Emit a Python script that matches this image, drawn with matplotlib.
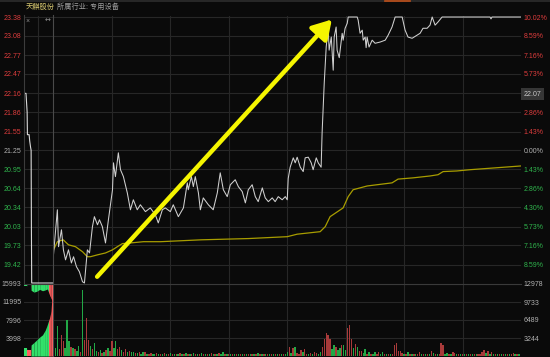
import numpy as np
import matplotlib
matplotlib.use('Agg')
import matplotlib.pyplot as plt
from matplotlib.lines import Line2D

plt.rcParams['font.family'] = ['Liberation Sans', 'Noto Sans CJK SC', 'DejaVu Sans']

# ---- data ----
prev_close = 21.25
price_ticks = [23.38, 23.08, 22.77, 22.47, 22.16, 21.86, 21.55, 21.25,
               20.95, 20.64, 20.34, 20.03, 19.73, 19.42]
pct_labels = ['10.02%', '8.59%', '7.16%', '5.73%', '22.07', '2.86%', '1.43%', '0.00%',
              '1.43%', '2.86%', '4.30%', '5.73%', '7.16%', '8.59%']
vol_ticks_left = [3998, 7996, 11995, 15993]
vol_ticks_right = [3244, 6489, 9733, 12978]

# call auction (9:15-9:25), minutes from 9:15
auc_t = [0, 0.7, 1.1, 1.2, 1.8, 2.0, 2.3, 2.5, 2.6, 2.7, 10]
auc_p = [22.16, 22.16, 21.86, 21.50, 21.50, 21.40, 21.30, 21.25, 20.00, 19.13, 19.13]
auc_vt = [0, 1.0, 1.1, 2.4, 2.5, 3.5, 4.5, 5.5, 6.5, 7.5, 8.2, 8.6, 9.0, 9.5, 10]
auc_match = [1800, 1800, 1330, 1330, 2450, 3000, 3600, 4200, 4700, 5800, 7000, 7800, 8500, 10000, 15300]
auc_unmatch = [500, 500, 300, 300, 1400, 1800, 1600, 1200, 1500, 1300, 1100, 1800, 2500, 3200, 3800]
auc_side = 'ggrrgggggggrrrr'

# intraday price (minutes from open)
px_min = [0, 2, 2.6, 4.1, 5.1, 6.2, 7.7, 9.2, 10.3, 11.8, 13.3, 14.9, 15.9, 17.4, 18.5, 20, 21,
          22.6, 23.6, 25.1, 26.7, 28.2, 30.3, 30.8, 31.8, 33.3, 34.4, 35.9, 37.9, 39.5, 41, 43,
          44.6, 47.2, 49.7, 52.3, 53.8, 55.9, 57.4, 60, 61.5, 64.1, 66.7, 68.7, 69.2, 70.8,
          71.8, 72.8, 74.4, 75.4, 76.9, 79.5, 82, 84.1, 85.6, 87.2, 89.2, 90.8, 93.3, 94.9,
          96.9, 98.5, 100, 102, 103.6, 105.1, 107.2, 108.7, 110.3, 112.3, 113.8, 115.4, 117.4,
          119, 120, 120.5, 121.5, 123.1, 124.1, 125.1, 126.7, 128.2, 129.2, 130.8, 132.3, 133.3,
          134.9, 135.9, 137.4, 137.9, 139, 140, 141, 141.5, 142.6, 143.6, 144.1, 145.1, 145.6,
          146.7, 148.2, 148.7, 149.7, 150.8, 151.3, 155.9, 156.4, 157.4, 158.5, 159, 160,
          160.5, 161, 162, 163.6, 165.1, 167.7, 170.3, 171.8, 173.8, 175.4, 179, 180.5, 182,
          184.1, 186.7, 188.2, 189.7, 191.8, 193.3, 194.4, 195.9, 197.4, 199.5, 224.1, 224.6,
          225.1, 240]
px_price = [19.58, 20.30, 19.71, 19.98, 19.66, 19.50, 19.66, 19.45, 19.55, 19.39, 19.31, 19.15,
            19.13, 19.66, 19.61, 20.03, 20.19, 20.06, 20.14, 20.03, 19.77, 20.14, 20.62, 21.05,
            20.83, 21.21, 20.94, 20.83, 20.57, 20.30, 20.46, 20.30, 20.38, 20.27, 20.33, 20.22,
            20.09, 20.30, 20.33, 20.27, 20.38, 20.19, 20.33, 20.73, 20.62, 20.83, 20.67, 20.83,
            20.57, 20.30, 20.49, 20.38, 20.30, 20.57, 20.89, 20.62, 20.51, 20.70, 20.78, 20.67,
            20.59, 20.41, 20.62, 20.70, 20.51, 20.43, 20.65, 20.49, 20.43, 20.49, 20.43, 20.51,
            20.46, 20.51, 20.46, 20.80, 20.98, 21.13, 21.05, 21.14, 20.98, 20.91, 21.13, 21.14,
            21.05, 20.94, 21.13, 21.05, 20.98, 21.53, 22.33, 22.90, 23.22, 22.85, 23.06, 22.53,
            23.06, 23.22, 22.85, 22.73, 23.12, 23.01, 23.20, 23.28, 23.38, 23.38, 23.33, 23.12,
            23.17, 23.01, 23.06, 22.89, 23.06, 22.90, 23.01, 22.96, 22.98, 23.01, 23.09, 23.22,
            23.38, 23.38, 23.17, 23.06, 23.04, 23.09, 23.12, 23.20, 23.20, 23.25, 23.38, 23.25,
            23.30, 23.38, 23.38, 23.35, 23.38, 23.38]

avg_min = [0, 2, 5, 7.7, 11.3, 14.9, 17.4, 19, 22.6, 26.7, 30.3, 32.8, 35.4, 39.5, 46.2, 55,
           75.9, 100, 120, 125.1, 136.9, 139.5, 142, 148.7, 151.3, 153.8, 161, 173.8, 176.9,
           184.6, 193.3, 197.4, 200, 207, 213.8, 240]
avg_price = [19.66, 19.79, 19.82, 19.74, 19.71, 19.63, 19.55, 19.55, 19.58, 19.61, 19.66, 19.71,
             19.76, 19.77, 19.79, 19.79, 19.82, 19.84, 19.87, 19.91, 19.95, 20.03, 20.19, 20.33,
             20.51, 20.62, 20.68, 20.73, 20.79, 20.81, 20.84, 20.86, 20.91, 20.92, 20.94, 21.00]

volume = [14000, 1500, 5400, 1200, 3800, 2700, 1500, 6500, 2700, 1600, 1400, 1200, 900, 1800, 800, 11900, 2900, 6850, 2900, 1800,
          1200, 2300, 900, 700, 1100, 600, 800, 1100, 1400, 900, 2700, 1400, 2700, 1300, 1600, 1000, 800, 1200, 700, 900,
          700, 800, 500, 600, 800, 400, 700, 700, 400, 300, 600, 400, 300, 500, 300, 400, 300, 600, 400, 300,
          500, 400, 300, 400, 300, 500, 400, 300, 500, 300, 400, 300, 500, 300, 400, 300, 500, 300, 400, 300,
          300, 500, 300, 400, 300, 500, 300, 700, 300, 400, 300, 300, 400, 300, 300, 400, 300, 300, 400, 300,
          300, 400, 300, 300, 400, 600, 300, 300, 400, 300, 300, 400, 300, 300, 400, 300, 300, 400, 300, 400,
          700, 1600, 600, 1500, 1600, 500, 400, 1000, 700, 1200, 400, 300, 500, 300, 700, 500, 300, 700, 1600, 3100,
          4100, 3800, 3100, 1300, 2000, 1700, 1100, 1400, 2000, 2000, 1100, 5000, 5600, 3100, 1500, 2200, 1700, 900, 900, 500,
          1300, 400, 700, 300, 400, 700, 300, 700, 300, 700, 300, 400, 300, 400, 300, 2000, 2400, 900, 900, 600,
          300, 400, 700, 300, 400, 300, 300, 400, 700, 300, 300, 400, 300, 300, 900, 600, 300, 400, 300, 2400,
          2000, 300, 600, 300, 400, 700, 600, 300, 400, 300, 300, 400, 300, 300, 400, 300, 300, 400, 300, 400,
          700, 1100, 500, 900, 400, 700, 300, 400, 300, 300, 400, 300, 300, 400, 300, 300, 500, 300, 400, 300]
vol_side = ('rggrrrgggrgrggrgrrrg' 'rggrgrgrgrrggrrgrrgr' 'ggrgrggrgrrggrgrgrgr'
            'grgrgrgrgrgrgrgrgrgr' 'grgrgrggrgrgrgrgrgrg' 'rgrgrgrgrgrgrgrgrgrg'
            'grgrgrrrgrrgrgrrggrr' 'rrrggrggrggrrrgrgrrg' 'grgrggrrggrgrgrrrrrr'
            'grgrgrgrrgrgrgrgrgrr' 'rggrgrrgrgrgrgrgrgrr' 'rrgrgrgrgrgrgrgrrgrg')

# ---- figure ----
W, H = 550, 357
BG = '#0a0a0a'
GRID = '#272727'
RED = '#dc3c3c'
GREEN = '#2fb34c'
GRAY = '#b0b0b0'

fig = plt.figure(figsize=(W / 100, H / 100), dpi=100, facecolor=BG)


def ax_at(x0, y0, x1, y1):
    a = fig.add_axes([x0 / W, 1 - y1 / H, (x1 - x0) / W, (y1 - y0) / H])
    a.set_facecolor(BG)
    for s in a.spines.values():
        s.set_visible(False)
    a.tick_params(length=0, labelsize=5, pad=2)
    return a


ap = ax_at(24, 16, 52.5, 284)
mp = ax_at(52.5, 16, 521, 284)
av = ax_at(24, 284, 52.5, 356)
mv = ax_at(52.5, 284, 521, 356)

ylo, yhi = 19.114, 23.396
for a in (ap, mp):
    a.set_ylim(ylo, yhi)
    a.set_yticks(price_ticks)
    a.grid(axis='y', color=GRID, lw=0.8)
    a.set_axisbelow(True)

mp.set_xlim(-0.5, 240)
mp.set_xticks([30, 60, 90, 120, 150, 180, 210])
mp.grid(axis='x', color=GRID, lw=0.8)
mp.tick_params(labelbottom=False, labelleft=False, labelright=True, right=True, left=False)
mp.set_yticklabels(pct_labels)

ap.set_xlim(0, 10)
ap.set_xticks([5])
ap.grid(axis='x', color=GRID, lw=0.8)
ap.tick_params(labelbottom=False)
ap.set_yticklabels(['%.2f' % v for v in price_ticks])

for lab, v in zip(ap.get_yticklabels(), price_ticks):
    lab.set_color(RED if v > prev_close + 0.001 else (GREEN if v < prev_close - 0.001 else GRAY))
for lab, v, t in zip(mp.get_yticklabels(), price_ticks, pct_labels):
    if t == '22.07':
        lab.set_color('#c8c8c8')
        lab.set_bbox(dict(boxstyle='square,pad=0.35', fc='#363636', ec='none'))
    else:
        lab.set_color(RED if v > prev_close + 0.001 else (GREEN if v < prev_close - 0.001 else GRAY))

# price lines
ap.plot(auc_t, auc_p, color='#d8d8d8', lw=0.8)
mp.plot(avg_min, avg_price, color='#a89d00', lw=0.9, zorder=3)
mp.plot(px_min, px_price, color='#d0d0d0', lw=0.75, zorder=4)

mp.annotate('', xy=(142.9, 23.34), xytext=(22.4, 19.23),
            arrowprops=dict(arrowstyle='-|>,head_length=0.75,head_width=0.45',
                            color='#f5f500', lw=3.2, mutation_scale=15,
                            shrinkA=0, shrinkB=0), zorder=6)

# volume panels
mv.set_xlim(-0.5, 240)
mv.set_ylim(0, vol_ticks_right[-1])
mv.set_xticks([30, 60, 90, 120, 150, 180, 210])
mv.set_yticks(vol_ticks_right)
mv.set_yticklabels([str(v) for v in vol_ticks_right])
mv.grid(color=GRID, lw=0.8)
mv.set_axisbelow(True)
mv.tick_params(labelbottom=False, labelleft=False, labelright=True, labelcolor=GRAY)
bar_cols = ['#a83a3a' if c == 'r' else '#22a846' for c in vol_side]
mv.bar(np.arange(len(volume)), volume, width=0.7, color=bar_cols, zorder=3)

av.set_xlim(0, 10)
av.set_ylim(0, vol_ticks_left[-1])
av.set_xticks([5])
av.set_yticks(vol_ticks_left)
av.set_yticklabels([str(v) for v in vol_ticks_left])
av.grid(color=GRID, lw=0.8)
av.set_axisbelow(True)
av.tick_params(labelbottom=False, labelcolor=GRAY)
top = vol_ticks_left[-1]
for i in range(len(auc_vt) - 1):
    c = '#ff6060' if auc_side[i] == 'r' else '#33e06a'
    xs = auc_vt[i:i + 2]
    av.fill_between(xs, 0, auc_match[i:i + 2], color=c, lw=0, zorder=3)
    av.fill_between(xs, [top - u for u in auc_unmatch[i:i + 2]], top, color=c, lw=0, zorder=3)

# separators and frame lines
fig.add_artist(Line2D([52.5 / W] * 2, [0, 1 - 15 / H], color='#4a4a4a', lw=0.8))
fig.add_artist(Line2D([24 / W] * 2, [1 - 284 / H, 1 - 15 / H], color='#3c3c3c', lw=0.8))
fig.add_artist(Line2D([24 / W, 521 / W], [1 - 284 / H] * 2, color='#3a3a3a', lw=0.8))
fig.add_artist(Line2D([0, 1], [1 - 1 / H] * 2, color='#2e2e2e', lw=1.2))
fig.add_artist(Line2D([385 / W, 410 / W], [1 - 1 / H] * 2, color='#c0501a', lw=1.2))

# header
fig.text(26 / W, 1 - 7.5 / H, '天麒股份', color='#d8c870', fontsize=5.2, va='center')
fig.text(57 / W, 1 - 7.5 / H, '所属行业: 专用设备', color='#a0a0a0', fontsize=5.2, va='center')
fig.text(28 / W, 1 - 21 / H, '×', color='#909090', fontsize=5, va='center', ha='center')
fig.text(48 / W, 1 - 21 / H, '↔', color='#909090', fontsize=5, va='center', ha='center',
         family='DejaVu Sans')

fig.savefig('out.png', dpi=100, facecolor=BG)
